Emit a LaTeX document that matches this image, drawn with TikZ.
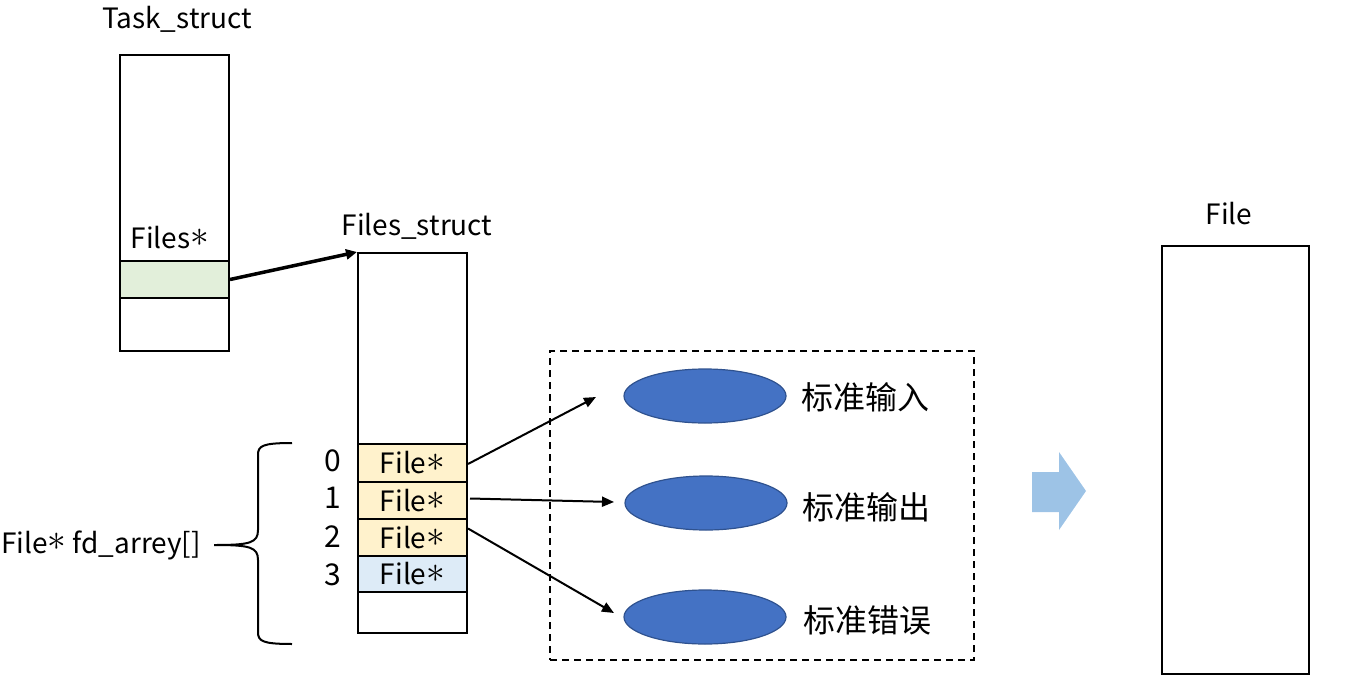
\documentclass[tikz,border=0pt]{standalone}
\usepackage{fontspec}
\setmainfont{Noto Sans CJK SC}
\usetikzlibrary{arrows.meta,shapes.geometric}
\definecolor{greenf}{HTML}{E2EFDA}
\definecolor{yellowf}{HTML}{FFF2CC}
\definecolor{bluef}{HTML}{DDEBF7}
\definecolor{ellf}{HTML}{4472C4}
\definecolor{elld}{HTML}{2F528F}
\definecolor{barrow}{HTML}{9DC3E6}
\newcommand{\fstar}{\raisebox{0.08em}{\scalebox{1.5}{$\ast$}}}
\tikzset{
  box/.style={draw=black, line width=2pt, inner sep=0pt, anchor=north west},
  lbl/.style={inner sep=0pt, font=\fontsize{28}{32}\selectfont},
  idx/.style={inner sep=0pt, font=\fontsize{30}{34}\selectfont},
  cjk/.style={inner sep=0pt, font=\fontsize{32}{36}\selectfont},
  blob/.style={ellipse, draw=elld, line width=1.2pt, fill=ellf, minimum width=162pt, minimum height=54pt, inner sep=0pt},
  conn/.style={line width=2pt, -{Triangle[length=12pt,width=10pt]}},
}
\begin{document}
\begin{tikzpicture}[x=1pt,y=-1pt]
\useasboundingbox (0,0) rectangle (1358,688);
% Task_struct
\node[lbl] (tasklbl) at (177,19) {Task\_struct};
\node[box, minimum width=109pt, minimum height=296pt] (task) at (119,54) {};
\node[box, fill=greenf, minimum width=109pt, minimum height=37pt] (filesp) at (119,260) {};
\node[lbl] (fileslbl) at (170,238) {Files\fstar};
% Files_struct
\node[lbl] (fslbl) at (417,226) {Files\_struct};
\node[box, minimum width=109pt, minimum height=380pt] (fs) at (357,252) {};
\node[box, fill=yellowf, minimum width=109pt, minimum height=38pt] (r0) at (357,443) {};
\node[box, fill=yellowf, minimum width=109pt, minimum height=37pt] (r1) at (357,481) {};
\node[box, fill=yellowf, minimum width=109pt, minimum height=37pt] (r2) at (357,518) {};
\node[box, fill=bluef, minimum width=109pt, minimum height=36pt] (r3) at (357,555) {};
\node[lbl] at (r0.center) {File\fstar};
\node[lbl] at (r1.center) {File\fstar};
\node[lbl] at (r2.center) {File\fstar};
\node[lbl] at (r3.center) {File\fstar};
\node[idx] (i0) at (333,461) {0};
\node[idx] (i1) at (333,498) {1};
\node[idx] (i2) at (333,537) {2};
\node[idx] (i3) at (333,575) {3};
% thick arrow
\draw[line width=3.5pt, -{Triangle[length=11pt,width=10pt]}] (filesp.east) -- (fs.north west);
% brace
\coordinate (btop) at (292,443);
\coordinate (bbot) at (292,644);
\coordinate (btip) at (214,545);
\draw[line width=2pt] (btop) .. controls (262,443) and (258,446) .. (258,455)
  -- (258,530) .. controls (258,543) and (250,545) .. (btip)
  .. controls (250,545) and (258,547) .. (258,560)
  -- (258,632) .. controls (258,641) and (262,644) .. (bbot);
\node[lbl, anchor=east] (fdarr) at (201,545) {File\fstar{} fd\_arrey[]};
% dashed container
\node[box, dash pattern=on 7pt off 5pt, minimum width=424pt, minimum height=309pt] (dbox) at (549,350) {};
\node[blob] (e0) at (705,396) {};
\node[blob] (e1) at (706,503) {};
\node[blob] (e2) at (705,617) {};
\node[cjk] (c0) at (865,397) {标准输入};
\node[cjk] (c1) at (866,507) {标准输出};
\node[cjk] (c2) at (867,620) {标准错误};
\coordinate (t0) at (596,397);
\coordinate (t1) at (614,502);
\coordinate (t2) at (614,613);
\draw[conn] ([yshift=-1pt]r0.east) -- (t0);
\draw[conn] ([xshift=2pt,yshift=2pt]r1.east) -- (t1);
\draw[conn] ([yshift=9pt]r2.east) -- (t2);
% block arrow
\fill[barrow] (1032,472) -- (1059,472) -- (1059,452) -- (1086,491) -- (1059,530) -- (1059,512) -- (1032,512) -- cycle;
% File
\node[lbl] (filelbl) at (1229,214) {File};
\node[box, minimum width=147pt, minimum height=428pt] (file) at (1161,245) {};
\end{tikzpicture}
\end{document}
